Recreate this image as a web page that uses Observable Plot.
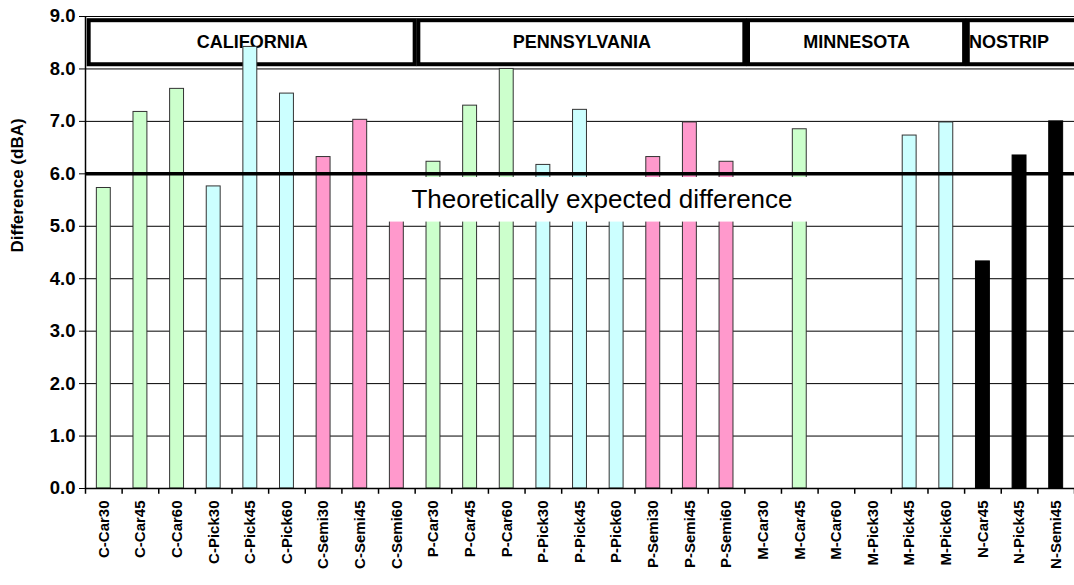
<!DOCTYPE html>
<html>
<head>
<meta charset="utf-8">
<script src="https://cdn.jsdelivr.net/npm/d3@7"></script>
<script src="https://cdn.jsdelivr.net/npm/@observablehq/plot@0.6"></script>
<style>
  body { margin: 0; background: #fff; }
  svg { font-family: "Liberation Sans", Arial, sans-serif; }
</style>
</head>
<body>
<div id="chart"></div>
<script>
// test cases (null = no bar)
const categories = ["C-Car30","C-Car45","C-Car60","C-Pick30","C-Pick45","C-Pick60","C-Semi30","C-Semi45","C-Semi60",
  "P-Car30","P-Car45","P-Car60","P-Pick30","P-Pick45","P-Pick60","P-Semi30","P-Semi45","P-Semi60",
  "M-Car30","M-Car45","M-Car60","M-Pick30","M-Pick45","M-Pick60",
  "N-Car45","N-Pick45","N-Semi45"];
const values = [5.73, 7.18, 7.62, 5.76, 8.42, 7.53, 6.32, 7.03, 5.6,
  6.23, 7.30, 8.0, 6.17, 7.22, 5.8, 6.32, 6.98, 6.23,
  null, 6.85, null, null, 6.73, 6.98,
  4.33, 6.35, 7.0];
const vehicle = ["car","car","car","pick","pick","pick","semi","semi","semi",
  "car","car","car","pick","pick","pick","semi","semi","semi",
  "car","car","car","pick","pick","pick",
  "none","none","none"];
const groups = ["CALIFORNIA","PENNSYLVANIA","MINNESOTA","NOSTRIP"];
const groupStart = [0, 9, 18, 24];
const groupEnd = [9, 18, 24, 27.3];
const expected = 6.0;
const yTicks = d3.range(0, 9.01, 1);

const fills = {car: "#ccffcc", pick: "#ccffff", semi: "#ff99cc", none: "#000"};

const bars = categories.map((c, i) => ({i, c, v: values[i], kind: vehicle[i]})).filter(d => d.v != null);
const boxes = groups.map((g, k) => ({g, x1: groupStart[k], x2: groupEnd[k]}));

const chart = Plot.plot({
  width: 1074,
  height: 585,
  marginLeft: 85,
  marginRight: 0,
  marginTop: 16,
  marginBottom: 97,
  x: {type: "linear", domain: [0, 27], axis: null},
  y: {type: "linear", domain: [0, 9], axis: null},
  marks: [
    Plot.ruleY(yTicks, {stroke: "#000", strokeWidth: 1}),
    // state header boxes
    Plot.rect(boxes, {x1: d => d.x1 + 0.1, x2: "x2", y1: 8.08, y2: 8.92, fill: "#fff", stroke: "#000", strokeWidth: 4}),
    Plot.text(boxes.slice(0, 3), {x: d => (d.x1 + d.x2) / 2 + 0.05, y: 8.5, text: "g", fontSize: 18, fontWeight: "bold", fill: "#000"}),
    Plot.text(boxes.slice(3), {x: d => d.x1 + 0.12, y: 8.5, text: "g", textAnchor: "start", fontSize: 18, fontWeight: "bold", fill: "#000"}),
    Plot.rectY(bars, {x1: d => d.i + 0.31, x2: d => d.i + 0.69, y: "v", fill: d => fills[d.kind], stroke: d => d.kind === "none" ? "#000" : "#333", strokeWidth: 1}),
    Plot.rect([0], {x1: 7.8, x2: 20.3, y1: 5.08, y2: 5.93, fill: "#fff"}),
    Plot.ruleY([expected], {stroke: "#000", strokeWidth: 3.5}),
    Plot.text(["Theoretically expected difference"], {x: 14.1, y: 5.5, fontSize: 26, fill: "#000"}),
    // axes
    Plot.ruleX([0], {stroke: "#000", strokeWidth: 1.5}),
    Plot.ruleY([0], {stroke: "#000", strokeWidth: 1.5}),
    Plot.ruleX(d3.range(0, 28), {y1: 0, y2: -0.11, stroke: "#000", strokeWidth: 1.5, clip: false}),
    Plot.axisY(yTicks, {tickFormat: d => d.toFixed(1), fontSize: 18.5, fontWeight: "bold", tickSize: 6, tickPadding: 4, label: null}),
    Plot.axisX(d3.range(0, 27).map(i => i + 0.5), {tickFormat: d => categories[d - 0.5], tickRotate: -90, fontSize: 15, fontWeight: "bold", tickSize: 0, tickPadding: 12, label: null}),
    Plot.text(["Difference (dBA)"], {frameAnchor: "left", dx: -68, rotate: -90, fontSize: 17, fontWeight: "bold", fill: "#000"})
  ]
});
document.getElementById("chart").append(chart);
</script>
</body>
</html>
